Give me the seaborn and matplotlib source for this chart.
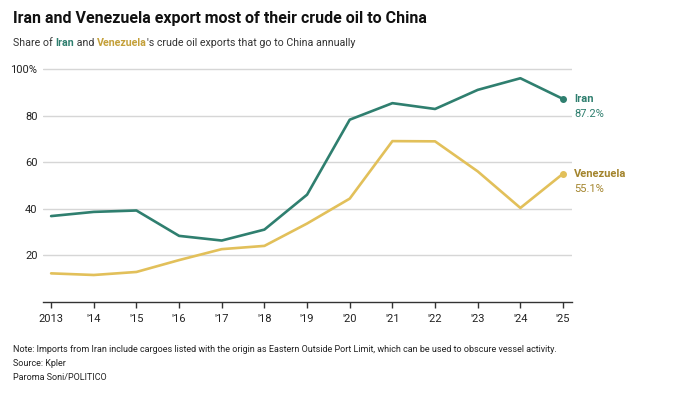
import matplotlib
matplotlib.use('Agg')
import matplotlib.pyplot as plt
import seaborn as sns
import pandas as pd

# ── Data ───────────────────────────────────────────────────────────────────
years = [2013, 2014, 2015, 2016, 2017, 2018, 2019, 2020, 2021, 2022, 2023, 2024, 2025]
iran = [36.9, 38.7, 39.3, 28.4, 26.4, 31.1, 46.1, 78.3, 85.4, 82.9, 91.1, 96.1, 87.2]
venezuela = [12.3, 11.6, 12.9, 18.0, 22.7, 24.1, 33.7, 44.4, 69.1, 69.0, 56.1, 40.4, 55.1]
year_labels = ['2013', "'14", "'15", "'16", "'17", "'18", "'19", "'20", "'21", "'22", "'23", "'24", "'25"]
y_ticks = [20, 40, 60, 80, 100]
y_labels = ['20', '40', '60', '80', '100%']

df = pd.DataFrame({'year': years * 2,
                   'share': iran + venezuela,
                   'country': ['Iran'] * len(years) + ['Venezuela'] * len(years)})

# ── Theme ──────────────────────────────────────────────────────────────────
sns.set_theme(style='white')
plt.rcParams['font.family'] = ['Roboto', 'DejaVu Sans']

IRAN = '#2f7f6f'
VEN = '#e2c05a'
VEN_TXT = '#a3842c'
TEXT = '#222222'
GRID = '#d6d6d6'

fig = plt.figure(figsize=(6.8, 4.01), dpi=100)
ax = fig.add_axes([43 / 680, 99 / 401, 529 / 680, 234 / 401])

sns.lineplot(data=df, x='year', y='share', hue='country',
             palette={'Iran': IRAN, 'Venezuela': VEN},
             linewidth=1.9, legend=False, ax=ax)

# end dots
ax.scatter([years[-1]], [iran[-1]], s=16, color=IRAN, zorder=5)
ax.scatter([years[-1]], [venezuela[-1]], s=16, color=VEN, zorder=5)

ax.set_xlim(2012.81, 2025.21)
ax.set_ylim(0, 100.5)
ax.set_xticks(years)
ax.set_xticklabels(year_labels)
ax.set_yticks(y_ticks)
ax.set_yticklabels(y_labels)
ax.set_xlabel('')
ax.set_ylabel('')
ax.grid(axis='y', color=GRID, linewidth=1)
for s in ['top', 'right', 'left']:
    ax.spines[s].set_visible(False)
ax.spines['bottom'].set_color('#333333')
ax.spines['bottom'].set_linewidth(1)
ax.tick_params(axis='x', length=4, width=1, color='#333333', direction='out',
               labelsize=8, labelcolor=TEXT, pad=5, bottom=True)
ax.tick_params(axis='y', length=0, labelsize=8, labelcolor=TEXT, pad=4)

# end labels
ax.annotate('Iran', (years[-1], iran[-1]), xytext=(8, 0), textcoords='offset points',
            color=IRAN, fontsize=8, fontweight='bold', va='center', annotation_clip=False)
ax.annotate('87.2%', (years[-1], iran[-1]), xytext=(8, -11), textcoords='offset points',
            color=IRAN, fontsize=8, va='center', annotation_clip=False)
ax.annotate('Venezuela', (years[-1], venezuela[-1]), xytext=(8, 0), textcoords='offset points',
            color=VEN_TXT, fontsize=8, fontweight='bold', va='center', annotation_clip=False)
ax.annotate('55.1%', (years[-1], venezuela[-1]), xytext=(8, -11), textcoords='offset points',
            color=VEN_TXT, fontsize=8, va='center', annotation_clip=False)

# ── Titles ─────────────────────────────────────────────────────────────────
fig.text(13 / 680, 1 - 19 / 401, 'Iran and Venezuela export most of their crude oil to China',
         fontsize=11.5, fontweight='bold', color='#111111', va='center')

renderer = fig.canvas.get_renderer()
parts = [('Share of ', '#333333', 'normal'), ('Iran', IRAN, 'bold'),
         (' and ', '#333333', 'normal'), ('Venezuela', '#c4a03a', 'bold'),
         ("'s crude oil exports that go to China annually", '#333333', 'normal')]
x = 13 / 680
for txt, col, w in parts:
    t = fig.text(x, 1 - 43 / 401, txt, fontsize=7.7, color=col, fontweight=w, va='center')
    bb = t.get_window_extent(renderer=renderer)
    x += bb.width / fig.bbox.width

notes = ['Note: Imports from Iran include cargoes listed with the origin as Eastern Outside Port Limit, which can be used to obscure vessel activity.',
         'Source: Kpler',
         'Paroma Soni/POLITICO']
for i, n in enumerate(notes):
    fig.text(13 / 680, 1 - (350 + 14 * i) / 401, n, fontsize=6.5, color='#222222', va='center')

fig.savefig('out.png', dpi=100, facecolor='white')
